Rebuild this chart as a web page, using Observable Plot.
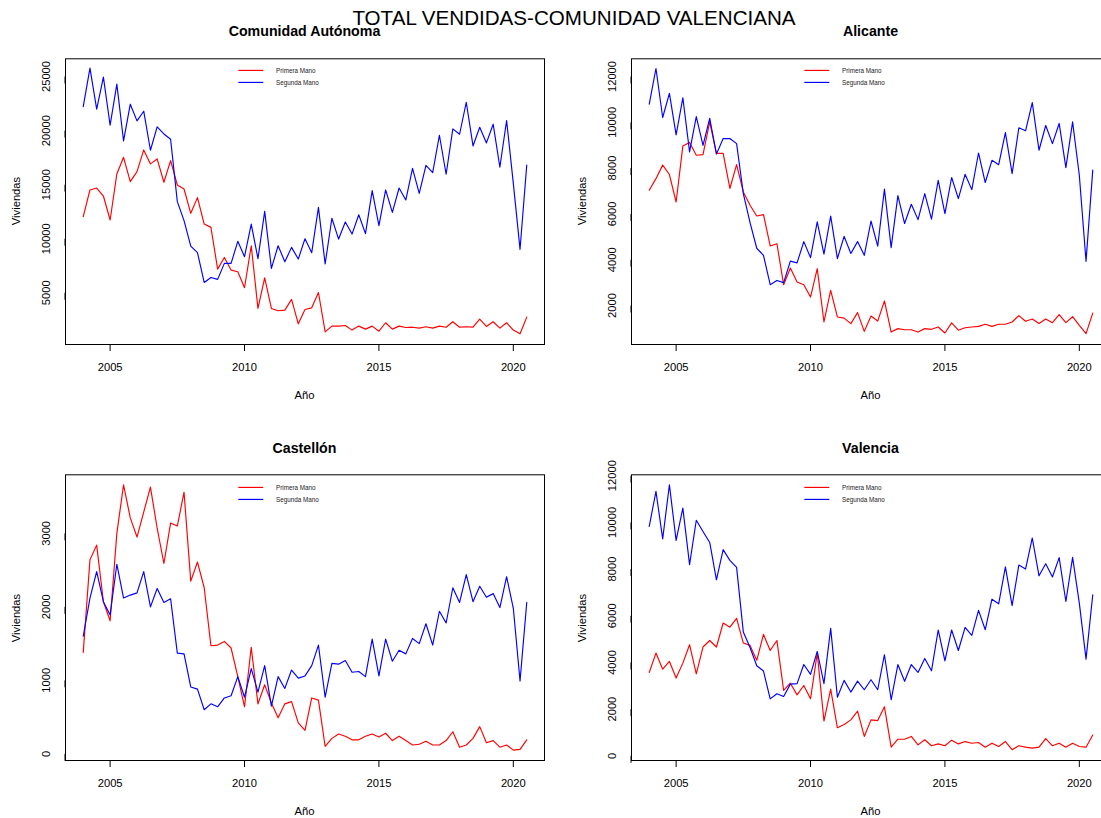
<!DOCTYPE html>
<html>
<head>
<meta charset="utf-8">
<script src="https://cdn.jsdelivr.net/npm/d3@7"></script>
<script src="https://cdn.jsdelivr.net/npm/@observablehq/plot@0.6"></script>
<style>
  html, body { margin: 0; padding: 0; background: #fff; }
  #page { position: relative; width: 1101px; height: 818px; overflow: hidden; background: #fff;
          font-family: "Liberation Sans", Arial, Helvetica, sans-serif; color: #000; }
  .abs { position: absolute; white-space: nowrap; line-height: 1; }
  .c { transform: translate(-50%, -50%); }
  .rot { transform: translate(-50%, -50%) rotate(-90deg); }
</style>
</head>
<body>
<div id="page"></div>
<script>
// ---- Data (quarterly, 2004 T1 .. 2020 T3) ----
const trimestres = [
  2004.00, 2004.25, 2004.50, 2004.75, 2005.00, 2005.25, 2005.50, 2005.75,
  2006.00, 2006.25, 2006.50, 2006.75, 2007.00, 2007.25, 2007.50, 2007.75,
  2008.00, 2008.25, 2008.50, 2008.75, 2009.00, 2009.25, 2009.50, 2009.75,
  2010.00, 2010.25, 2010.50, 2010.75, 2011.00, 2011.25, 2011.50, 2011.75,
  2012.00, 2012.25, 2012.50, 2012.75, 2013.00, 2013.25, 2013.50, 2013.75,
  2014.00, 2014.25, 2014.50, 2014.75, 2015.00, 2015.25, 2015.50, 2015.75,
  2016.00, 2016.25, 2016.50, 2016.75, 2017.00, 2017.25, 2017.50, 2017.75,
  2018.00, 2018.25, 2018.50, 2018.75, 2019.00, 2019.25, 2019.50, 2019.75,
  2020.00, 2020.25, 2020.50
];

// Comunidad Autónoma
const caPrimera = [
  12040, 14510, 14690, 13950, 11730, 15990, 17530, 15280, 16200, 18210,
  16920, 17380, 15220, 17220, 14970, 14600, 12350, 13800, 11360, 11050,
  7190, 8270, 7100, 6950, 5470, 9350, 3550, 6390, 3550, 3340,
  3400, 4390, 2130, 3460, 3610, 5030, 1390, 1920, 1920, 1980,
  1550, 1920, 1640, 1920, 1450, 2230, 1640, 1920, 1790, 1820,
  1730, 1860, 1730, 1920, 1820, 2320, 1820, 1860, 1820, 2570,
  1890, 2320, 1730, 2230, 1550, 1210, 2750
];
const caSegunda = [
  22220, 25770, 21980, 24940, 20490, 24290, 19040, 22440, 20900, 21790,
  18180, 20340, 19690, 19200, 13430, 11670, 9320, 8710, 5960, 6420,
  6240, 7720, 7720, 9760, 8340, 11360, 8150, 12530, 7260, 9350,
  7870, 9200, 8120, 10000, 8710, 12900, 7660, 11890, 9970, 11550,
  10430, 12220, 10470, 14450, 11210, 14510, 12440, 14690, 13580, 16510,
  14200, 16790, 16110, 19570, 15960, 20160, 19660, 22620, 18580, 20310,
  18860, 20590, 16610, 20930, 15120, 9020, 16820
];

// Alicante
const alPrimera = [
  7030, 7540, 8130, 7720, 6520, 8960, 9120, 8560, 8590, 10020,
  8640, 8640, 7110, 8150, 6960, 6380, 5910, 5970, 4600, 4700,
  2910, 3640, 3030, 2910, 2370, 3610, 1280, 2660, 1500, 1450,
  1210, 1690, 870, 1540, 1320, 2200, 840, 990, 940, 940,
  840, 990, 960, 1060, 800, 1240, 920, 1030, 1060, 1090,
  1180, 1090, 1180, 1180, 1280, 1560, 1310, 1410, 1210, 1410,
  1250, 1600, 1250, 1510, 1130, 770, 1670
];
const alSegunda = [
  10790, 12350, 10210, 11260, 9450, 11070, 8710, 10250, 8990, 10170,
  8610, 9290, 9290, 9070, 6890, 5620, 4500, 4190, 2910, 3090,
  3000, 3940, 3860, 4790, 4090, 5650, 4240, 5900, 4050, 5020,
  4270, 4790, 4190, 5690, 4590, 7080, 4530, 6800, 5580, 6420,
  5750, 6890, 5770, 7470, 6010, 7590, 6670, 7730, 7060, 8660,
  7370, 8340, 8150, 9550, 7760, 9760, 9630, 10860, 8780, 9860,
  9070, 9950, 8020, 10020, 7690, 3930, 7910
];

// Castellón
const csPrimera = [
  1380, 2640, 2840, 2070, 1810, 3000, 3660, 3210, 2950, 3290,
  3630, 3070, 2590, 3140, 3100, 3560, 2350, 2610, 2260, 1470,
  1480, 1530, 1440, 1050, 640, 1450, 680, 940, 690, 490,
  680, 710, 420, 320, 760, 730, 100, 210, 270, 240,
  190, 190, 240, 270, 230, 280, 180, 240, 180, 120,
  130, 170, 120, 120, 180, 300, 90, 120, 210, 370,
  150, 180, 90, 120, 50, 60, 190
];
const csSegunda = [
  1600, 2120, 2480, 2070, 1890, 2580, 2120, 2160, 2190, 2480,
  2000, 2250, 2060, 2110, 1370, 1360, 910, 880, 600, 680,
  640, 760, 790, 1050, 770, 1160, 840, 1200, 650, 1050,
  890, 1140, 1030, 1060, 1200, 1480, 770, 1230, 1220, 1270,
  1110, 1120, 1050, 1560, 1060, 1560, 1260, 1410, 1360, 1570,
  1500, 1770, 1480, 1940, 1780, 2260, 2060, 2440, 2070, 2280,
  2130, 2180, 1990, 2410, 1980, 990, 2060
];

// Valencia
const vlPrimera = [
  3570, 4400, 3710, 4040, 3330, 3970, 4760, 3510, 4660, 4940,
  4660, 5690, 5510, 5890, 4830, 4730, 4090, 5200, 4510, 4940,
  2800, 3110, 2610, 3010, 2440, 4400, 1490, 2860, 1200, 1340,
  1540, 1910, 830, 1540, 1510, 2100, 370, 710, 710, 830,
  470, 690, 430, 510, 430, 670, 510, 610, 540, 570,
  370, 540, 400, 610, 260, 430, 370, 330, 370, 740,
  430, 540, 370, 540, 400, 370, 890
];
const vlSegunda = [
  9830, 11330, 9290, 11610, 9230, 10610, 8190, 10090, 9610, 9140,
  7540, 8830, 8370, 8070, 5300, 4640, 3860, 3630, 2440, 2660,
  2540, 3070, 3090, 3910, 3490, 4470, 3090, 5460, 2510, 3230,
  2730, 3200, 2830, 3260, 2830, 4330, 2400, 3910, 3190, 3910,
  3570, 4170, 3640, 5390, 4070, 5390, 4510, 5500, 5160, 6230,
  5400, 6710, 6510, 8090, 6430, 8170, 8000, 9330, 7710, 8230,
  7660, 8490, 6610, 8500, 6540, 4140, 6900
];

// Tick labels
const xTicks = [2005, 2010, 2015, 2020];
const yTicksCA = [5000, 10000, 15000, 20000, 25000];
const yTicksAL = [2000, 4000, 6000, 8000, 10000, 12000];
const yTicksCS = [0, 1000, 2000, 3000];
const yTicksVL = [0, 2000, 4000, 6000, 8000, 10000, 12000];

const tituloGeneral = "TOTAL VENDIDAS-COMUNIDAD VALENCIANA";
const serieNombres = ["Primera Mano", "Segunda Mano"];
const serieColores = ["#ff0000", "#0000ff"];
const ejeX = "Año";
const ejeY = "Viviendas";

// ---- Layout ----
const page = document.getElementById("page");
const PW = 566, PH = 416;           // panel svg size
const ML = 65, MR = 22, MT = 58.3, MB = 72;
const boxW = PW - ML - MR, boxH = PH - MT - MB;
const xDomain = [2003.34, 2021.16];

const paneles = [
  {titulo: "Comunidad Autónoma", series: [caPrimera, caSegunda], yTicks: yTicksCA, yDomain: [220, 26637], left: 0, top: 0},
  {titulo: "Alicante", series: [alPrimera, alSegunda], yTicks: yTicksAL, yDomain: [297, 12773], left: 566, top: 0},
  {titulo: "Castellón", series: [csPrimera, csSegunda], yTicks: yTicksCS, yDomain: [-91, 3797], left: 0, top: 416.4},
  {titulo: "Valencia", series: [vlPrimera, vlSegunda], yTicks: yTicksVL, yDomain: [-201, 12037], left: 566, top: 416.4}
];

function addText(txt, x, y, cls, style) {
  const d = document.createElement("div");
  d.className = "abs " + cls;
  d.textContent = txt;
  d.style.left = x + "px";
  d.style.top = y + "px";
  Object.assign(d.style, style || {});
  page.appendChild(d);
  return d;
}

const FONT = '"Liberation Sans", Arial, Helvetica, sans-serif';
const SVGNS = "http://www.w3.org/2000/svg";

for (const p of paneles) {
  const marks = [];
  p.series.forEach((vals, k) => {
    const rows = trimestres.map((t, i) => ({t, v: vals[i]}));
    marks.push(Plot.line(rows, {x: "t", y: "v", stroke: serieColores[k], strokeWidth: 1.15}));
  });
  marks.push(Plot.frame({stroke: "#000", strokeWidth: 1}));
  marks.push(Plot.axisX(xTicks, {tickSize: 7, tickPadding: 11.5, tickFormat: d => String(d), label: null, fontSize: 11.2, stroke: "#000"}));
  marks.push(Plot.axisY(p.yTicks, {tickSize: 7, tickPadding: 12, rotate: -90, textAnchor: "middle", lineAnchor: "middle",
    tickFormat: d => String(d), label: null, fontSize: 11.2, stroke: "#000"}));

  const svg = Plot.plot({
    width: PW, height: PH,
    marginLeft: ML, marginRight: MR, marginTop: MT, marginBottom: MB,
    x: {domain: xDomain},
    y: {domain: p.yDomain},
    style: {background: "transparent", fontFamily: FONT, fontSize: "11.2px", color: "#000", maxWidth: "none", overflow: "visible"},
    marks
  });
  svg.style.position = "absolute";
  svg.style.left = p.left + "px";
  svg.style.top = p.top + "px";
  page.appendChild(svg);

  const bx = p.left + ML, by = p.top + MT;
  // panel title
  addText(p.titulo, bx + boxW / 2, by - 27, "c", {fontSize: "14.2px", fontWeight: "bold"});
  // axis titles
  addText(ejeX, bx + boxW / 2, by + boxH + 52, "c", {fontSize: "11.2px"});
  addText(ejeY, bx - 48, by + boxH / 2, "rot", {fontSize: "11.2px"});
  // legend (swatch lines in a small svg overlay)
  const leg = document.createElementNS(SVGNS, "svg");
  leg.setAttribute("width", 30);
  leg.setAttribute("height", 30);
  leg.style.position = "absolute";
  leg.style.left = (bx + 171) + "px";
  leg.style.top = (by + 2) + "px";
  serieNombres.forEach((nm, k) => {
    const ly = 10.4 + k * 12;
    const ln = document.createElementNS(SVGNS, "line");
    ln.setAttribute("x1", 2.3); ln.setAttribute("x2", 27.3);
    ln.setAttribute("y1", ly); ln.setAttribute("y2", ly);
    ln.setAttribute("stroke", serieColores[k]);
    ln.setAttribute("stroke-width", 1.15);
    leg.appendChild(ln);
    addText(nm, bx + 211, by + 12.9 + k * 12, "", {fontSize: "6.3px", transform: "translateY(-50%)", color: "#222"});
  });
  page.appendChild(leg);
}

addText(tituloGeneral, 574, 18, "c", {fontSize: "20.6px"});
</script>
</body>
</html>
